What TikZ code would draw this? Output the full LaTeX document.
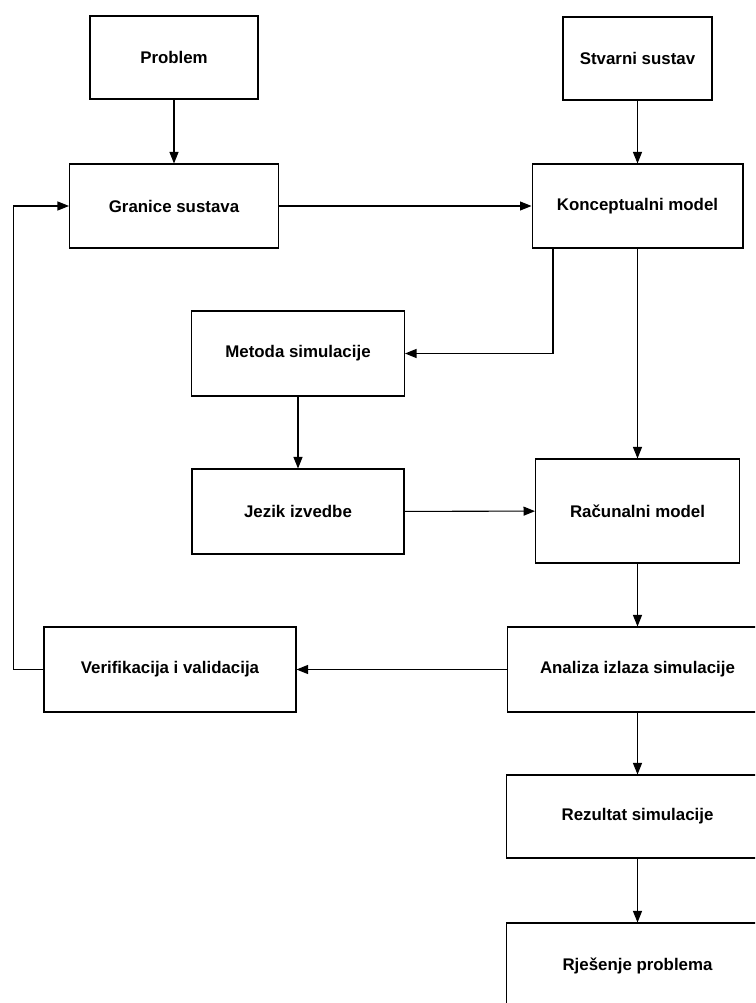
\documentclass[tikz,border=0pt]{standalone}
\usepackage{fontspec}
\setmainfont{Liberation Sans}
\usetikzlibrary{arrows.meta}
\tikzset{
  blok/.style={draw, line width=0.6pt, inner sep=0pt, font=\fontsize{9.6}{11}\selectfont\bfseries},
  tok/.style={line width=0.6pt, -{Triangle[length=2.3mm,width=1.8mm]}}
}
\begin{document}
\begin{tikzpicture}[x=0.02cm, y=-0.02cm]
      \useasboundingbox (0,0) rectangle (755,1003);
      \clip (0,0) rectangle (755,1003);
      \fill[white] (0,0) rectangle (755,1003);
      % blokovi
      \node[blok, minimum width=3.36cm, minimum height=1.66cm] (prob) at (174,57.5) {Problem};
      \node[blok, minimum width=2.98cm, minimum height=1.66cm] (stvar) at (637.5,58.5) {Stvarni sustav};
      \node[blok, minimum width=4.18cm, minimum height=1.68cm] (gran) at (174,206) {Granice sustava};
      \node[blok, minimum width=4.22cm, minimum height=1.68cm] (konc) at (637.5,206) {Konceptualni model};
      \node[blok, minimum width=4.26cm, minimum height=1.70cm] (metoda) at (298,353.5) {Metoda simulacije};
      \node[blok, minimum width=4.24cm, minimum height=1.70cm] (jezik) at (298,511.5) {Jezik izvedbe};
      \node[blok, minimum width=4.08cm, minimum height=2.08cm] (racun) at (637.5,511) {Računalni model};
      \node[blok, minimum width=5.04cm, minimum height=1.70cm] (verif) at (170,669.5) {Verifikacija i validacija};
      \node[blok, minimum width=5.20cm, minimum height=1.70cm] (analiza) at (637.5,669.5) {Analiza izlaza simulacije};
      \node[blok, minimum width=5.24cm, minimum height=1.66cm] (rez) at (637.5,816.5) {Rezultat simulacije};
      \node[blok, minimum width=5.24cm, minimum height=1.70cm] (rjes) at (637.5,965.5) {Rješenje problema};
      % veze
      \draw[tok] (prob) -- (gran);
      \draw[tok] (stvar) -- (konc);
      \draw[tok] (gran) -- (konc);
      \draw[tok] ([xshift=-1.69cm]konc.south) |- (metoda);
      \draw[tok] (konc) -- (racun);
      \draw[tok] (metoda) -- (jezik);
      \draw[tok] (jezik) -- (racun);
      \draw[tok] (racun) -- (analiza);
      \draw[tok] (analiza) -- (verif);
      \draw[tok] (verif.west) -- ++(-0.6cm,0) |- (gran.west);
      \draw[tok] (analiza) -- (rez);
      \draw[tok] (rez) -- (rjes);
    \end{tikzpicture}
\end{document}
